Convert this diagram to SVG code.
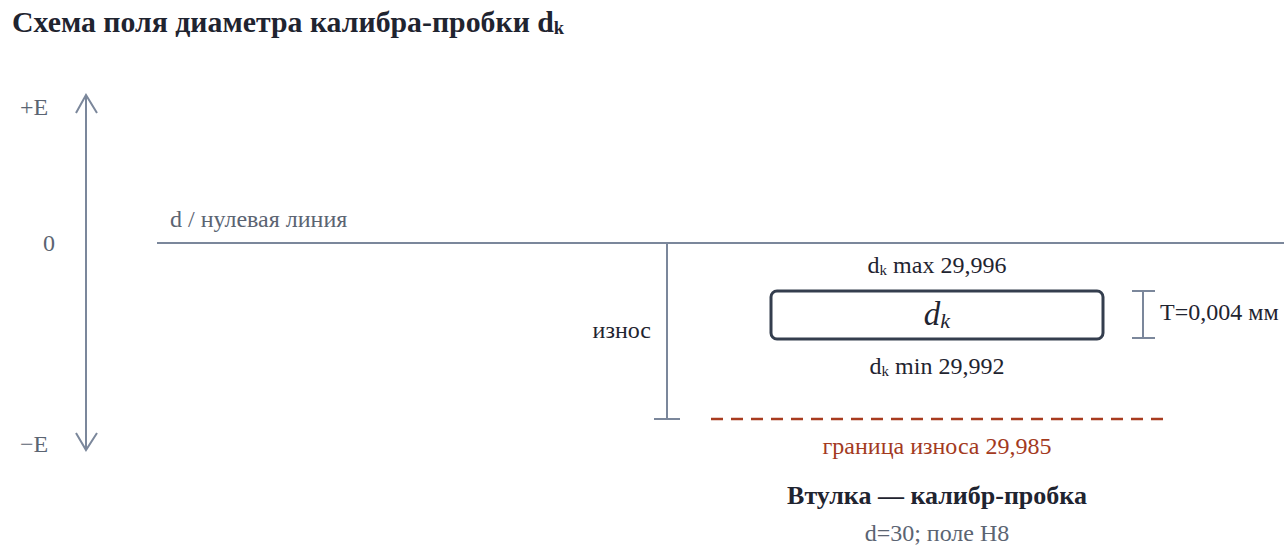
<svg xmlns="http://www.w3.org/2000/svg" width="1284" height="555" viewBox="0 0 1284 555" font-family="'Liberation Serif', 'Times New Roman', serif">
<style>
text{font-family:'Liberation Serif','Times New Roman',serif;}
.t{font-size:24px;fill:#1f2430;}
.g{font-size:24px;fill:#5b6472;}
.ax{stroke:#7b879b;stroke-width:2;fill:none;}
.sub{font-size:15px;}
</style>
<rect width="1284" height="555" fill="#ffffff"/>
<g id="title">
<text x="12" y="32" font-size="29.8" font-weight="bold" fill="#1f2430">Схема поля диаметра калибра-пробки d<tspan font-size="18.5" dy="2">k</tspan></text>
</g>
<g id="axis">
<line class="ax" x1="86" y1="95" x2="86" y2="450"/>
<polyline class="ax" points="76,113 86,95 97,113"/>
<polyline class="ax" points="76,433 86,450 97,433"/>
<text class="g" x="20" y="115">+E</text>
<text class="g" x="43" y="251">0</text>
<text class="g" x="20" y="452">−E</text>
</g>
<g id="zero-line">
<line class="ax" x1="157" y1="243" x2="1284" y2="243"/>
<text class="g" x="170" y="227">d / нулевая линия</text>
</g>
<g id="connectors">
<line class="ax" x1="667" y1="243" x2="667" y2="419"/>
<line class="ax" x1="654" y1="419" x2="680" y2="419"/>
<line class="ax" x1="1143" y1="291" x2="1143" y2="338"/>
<line class="ax" x1="1132" y1="291" x2="1155" y2="291"/>
<line class="ax" x1="1132" y1="338" x2="1155" y2="338"/>
</g>
<g id="wear">
<text class="t" x="651" y="338" text-anchor="end">износ</text>
</g>
<g id="dk-box">
<rect x="771" y="291" width="332" height="48" rx="6" fill="#ffffff" stroke="#343e4e" stroke-width="3"/>
<text x="937" y="325" text-anchor="middle" font-size="33" font-style="italic" fill="#1f2430">d<tspan font-size="22" dy="3">k</tspan></text>
<text class="t" x="937" y="273" text-anchor="middle">d<tspan class="sub" dy="2">k</tspan><tspan dy="-2"> max 29,996</tspan></text>
<text class="t" x="937" y="374" text-anchor="middle">d<tspan class="sub" dy="2">k</tspan><tspan dy="-2"> min 29,992</tspan></text>
</g>
<g id="tolerance">
<text class="t" x="1160" y="320">T=0,004 мм</text>
</g>
<g id="wear-limit">
<line x1="711" y1="419" x2="1163" y2="419" stroke="#a83c20" stroke-width="2.5" stroke-dasharray="12 8"/>
<text x="937" y="454" text-anchor="middle" font-size="24" fill="#a33a1e">граница износа 29,985</text>
</g>
<g id="caption">
<text x="937" y="504" text-anchor="middle" font-size="26" font-weight="bold" fill="#1f2430">Втулка — калибр-пробка</text>
<text x="937" y="541" text-anchor="middle" font-size="24" fill="#5b6472">d=30; поле H8</text>
</g>
</svg>
